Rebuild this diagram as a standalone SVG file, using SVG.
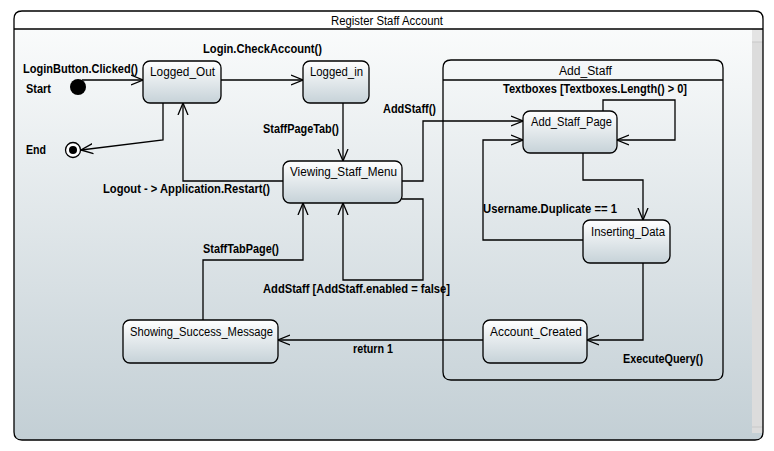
<svg xmlns="http://www.w3.org/2000/svg" width="774" height="451" viewBox="0 0 774 451">
<defs>
<linearGradient id="bg" x1="0" y1="0" x2="0" y2="1">
<stop offset="0" stop-color="#fcfdfd"/>
<stop offset="1" stop-color="#c3cfd5"/>
</linearGradient>
<linearGradient id="ng" x1="0" y1="0" x2="0" y2="1">
<stop offset="0" stop-color="#ffffff"/>
<stop offset="1" stop-color="#c6d2d8"/>
</linearGradient>
<marker id="arr" viewBox="0 0 12 12" refX="12" refY="6" markerWidth="12" markerHeight="12" markerUnits="userSpaceOnUse" orient="auto">
<path d="M0,1 L12,6 L0,11" fill="none" stroke="#000" stroke-width="1.3"/>
</marker>
</defs>
<style>
text{font-family:"Liberation Sans",Arial,sans-serif;font-size:12px;fill:#000}
.b{font-weight:bold}
.n{font-size:12.5px}
.st{fill:url(#ng);stroke:#000;stroke-width:1.3}
.c{fill:none;stroke:#000;stroke-width:1.3}
</style>
<rect width="774" height="451" fill="#fff"/>
<g id="frame">
<path d="M22,11 H755 Q763,11 763,19 V432 Q763,440 755,440 H22 Q14,440 14,432 V19 Q14,11 22,11 Z" fill="url(#bg)" stroke="none"/>
<rect x="14" y="11" width="749" height="18" fill="#fff"/>
<rect x="752" y="29" width="11" height="404" fill="#dcdcdc"/>
<rect x="752" y="29" width="11" height="13" fill="#e4e4e4"/>
<line x1="752" y1="42" x2="763" y2="42" stroke="#c8c8c8"/>
<line x1="752" y1="427" x2="763" y2="427" stroke="#c8c8c8"/>
<path d="M22,11 H755 Q763,11 763,19 V432 Q763,440 755,440 H22 Q14,440 14,432 V19 Q14,11 22,11 Z" fill="none" stroke="#000" stroke-width="1.3"/>
<line x1="14" y1="29" x2="763" y2="29" stroke="#000" stroke-width="1.3"/>
<text x="331" y="25" class="n" textLength="112" lengthAdjust="spacingAndGlyphs">Register Staff Account</text>
</g>
<g id="Add_Staff">
<path d="M451,60 H715 Q723,60 723,68 V372 Q723,380 715,380 H451 Q443,380 443,372 V68 Q443,60 451,60 Z" fill="none" stroke="#000" stroke-width="1.3"/>
<line x1="443" y1="80" x2="723" y2="80" stroke="#000" stroke-width="1.3"/>
<text x="559" y="75" class="n" textLength="53" lengthAdjust="spacingAndGlyphs">Add_Staff</text>
</g>
<g id="connectors">
<polyline class="c" points="82,80 143,80" marker-end="url(#arr)"/>
<polyline class="c" points="221,80 303,80" marker-end="url(#arr)"/>
<polyline class="c" points="163,103 163,140 81,150" marker-end="url(#arr)"/>
<polyline class="c" points="343,103 343,161" marker-end="url(#arr)"/>
<polyline class="c" points="283,181 183,181 183,103" marker-end="url(#arr)"/>
<polyline class="c" points="402,181 423,181 423,121 523,121" marker-end="url(#arr)"/>
<polyline class="c" points="402,199 423,199 423,280 343,280 343,203" marker-end="url(#arr)"/>
<polyline class="c" points="203,320 203,260 303,260 303,203" marker-end="url(#arr)"/>
<polyline class="c" points="483,340 278,340" marker-end="url(#arr)"/>
<polyline class="c" points="603,111 603,100 675,100 675,140 617,140" marker-end="url(#arr)"/>
<polyline class="c" points="583,153 583,180 643,180 643,220" marker-end="url(#arr)"/>
<polyline class="c" points="583,240 483,240 483,140 523,140" marker-end="url(#arr)"/>
<polyline class="c" points="643,263 643,340 587,340" marker-end="url(#arr)"/>
</g>
<g id="labels">
<text x="203" y="53" class="b" textLength="119" lengthAdjust="spacingAndGlyphs">Login.CheckAccount()</text>
<text x="23" y="73" class="b" textLength="115" lengthAdjust="spacingAndGlyphs">LoginButton.Clicked()</text>
<text x="26" y="93" class="b" textLength="25" lengthAdjust="spacingAndGlyphs">Start</text>
<text x="26" y="154" class="b" textLength="20" lengthAdjust="spacingAndGlyphs">End</text>
<text x="263" y="133" class="b" textLength="76" lengthAdjust="spacingAndGlyphs">StaffPageTab()</text>
<text x="103" y="193" class="b" textLength="167" lengthAdjust="spacingAndGlyphs">Logout - &gt; Application.Restart()</text>
<text x="383" y="113" class="b" textLength="53" lengthAdjust="spacingAndGlyphs">AddStaff()</text>
<text x="503" y="93" class="b" textLength="184" lengthAdjust="spacingAndGlyphs">Textboxes [Textboxes.Length() &gt; 0]</text>
<text x="483" y="213" class="b" textLength="134" lengthAdjust="spacingAndGlyphs">Username.Duplicate == 1</text>
<text x="203" y="253" class="b" textLength="76" lengthAdjust="spacingAndGlyphs">StaffTabPage()</text>
<text x="263" y="293" class="b" textLength="187" lengthAdjust="spacingAndGlyphs">AddStaff [AddStaff.enabled = false]</text>
<text x="353" y="353" class="b" textLength="40" lengthAdjust="spacingAndGlyphs">return 1</text>
<text x="623" y="363" class="b" textLength="80" lengthAdjust="spacingAndGlyphs">ExecuteQuery()</text>
</g>
<g id="Start"><circle cx="78" cy="87" r="8" fill="#000"/></g>
<g id="End"><circle cx="73" cy="150" r="7.5" fill="#fff" stroke="#000" stroke-width="1.3"/><circle cx="73" cy="150" r="4" fill="#000"/></g>
<g id="Logged_Out"><rect class="st" x="143" y="61" width="78" height="42" rx="7"/><text x="150" y="76" class="n" textLength="65" lengthAdjust="spacingAndGlyphs">Logged_Out</text></g>
<g id="Logged_in"><rect class="st" x="303" y="61" width="66" height="42" rx="7"/><text x="310" y="76" class="n" textLength="53" lengthAdjust="spacingAndGlyphs">Logged_in</text></g>
<g id="Viewing_Staff_Menu"><rect class="st" x="283" y="161" width="119" height="42" rx="7"/><text x="290" y="176" class="n" textLength="107" lengthAdjust="spacingAndGlyphs">Viewing_Staff_Menu</text></g>
<g id="Showing_Success_Message"><rect class="st" x="123" y="320" width="155" height="43" rx="7"/><text x="130" y="336" class="n" textLength="143" lengthAdjust="spacingAndGlyphs">Showing_Success_Message</text></g>
<g id="Add_Staff_Page"><rect class="st" x="523" y="111" width="94" height="42" rx="7"/><text x="531" y="126" class="n" textLength="81" lengthAdjust="spacingAndGlyphs">Add_Staff_Page</text></g>
<g id="Inserting_Data"><rect class="st" x="583" y="220" width="87" height="43" rx="7"/><text x="591" y="236" class="n" textLength="74" lengthAdjust="spacingAndGlyphs">Inserting_Data</text></g>
<g id="Account_Created"><rect class="st" x="483" y="320" width="104" height="43" rx="7"/><text x="490" y="336" class="n" textLength="92" lengthAdjust="spacingAndGlyphs">Account_Created</text></g>
</svg>
